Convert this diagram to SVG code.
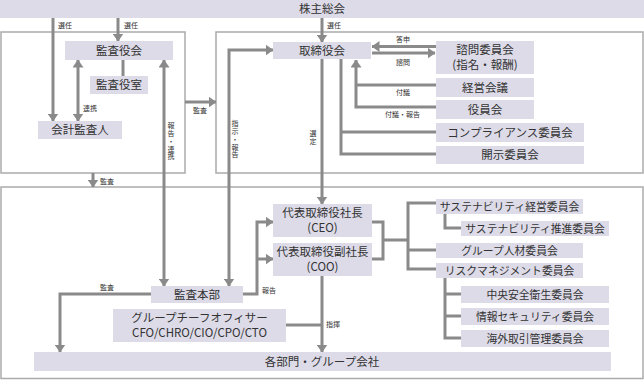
<svg xmlns="http://www.w3.org/2000/svg" width="644" height="380" viewBox="0 0 644 380">
<defs>
<style>
.frame{fill:#fff;stroke:#ababab;stroke-width:1.5}
.box{fill:#dddbe8}
.t{font-family:"Noto Sans CJK JP","Noto Sans",sans-serif;font-size:11.5px;fill:#333;text-anchor:middle}
.ts{font-family:"Noto Sans CJK JP","Noto Sans",sans-serif;font-size:10.8px;fill:#333;text-anchor:middle}
.lb{font-family:"Noto Sans CJK JP","Noto Sans",sans-serif;font-size:7px;fill:#333}
.vl{font-family:"Noto Sans CJK JP","Noto Sans",sans-serif;font-size:7px;fill:#333;letter-spacing:0.8px}
.c{fill:none;stroke:#8a8a8a;stroke-width:3}
.a{marker-end:url(#ah)}
.b{marker-start:url(#ah);marker-end:url(#ah)}
</style>
<marker id="ah" markerUnits="userSpaceOnUse" viewBox="0 0 8 11" markerWidth="8" markerHeight="11" refX="7.5" refY="5.5" orient="auto-start-reverse">
<path d="M0,0 L8,5.5 L0,11 z" fill="#8a8a8a"/>
</marker>
</defs>
<rect class="frame" x="1" y="32" width="184" height="141"/>
<rect class="frame" x="216" y="32" width="427" height="141"/>
<rect class="frame" x="1" y="187" width="642" height="191.5"/>

<g id="connectors">
<path class="c a" d="M53,18 V121"/>
<path class="c a" d="M118,18 V41"/>
<path class="c" d="M123,60 V76"/>
<path class="c b" d="M78,60 V121"/>
<path class="c b" d="M164,60 V286"/>
<path class="c a" d="M185,102 H216"/>
<path class="c a" d="M93,173 V187"/>
<path class="c a" d="M322,18 V42"/>
<path class="c b" d="M229,286 V50 H273"/>
<path class="c a" d="M322,59 V204"/>
<path class="c a" d="M436,46.5 H372"/>
<path class="c a" d="M372,53 H435"/>
<path class="c a" d="M436,107 H356 V60"/>
<path class="c" d="M436,85 H356"/>
<path class="c" d="M341,59 V154 H436 M341,132 H436"/>
<path class="c a" d="M243,294 H257 V222 H273"/>
<path class="c a" d="M257,259 H273"/>
<path class="c a" d="M151,294 H60 V352"/>
<path class="c a" d="M322,276 V352"/>
<path class="c" d="M286,325 H322"/>
<path class="c" d="M372,222 H383 V259 H372 M383,240 H408"/>
<path class="c" d="M436,203 H408 V269 H436 M408,250 H436"/>
<path class="c" d="M445,214 V228 H461"/>
<path class="c" d="M445,278 V338 H461 M445,294 H461 M445,316 H461"/>
<text class="lb" x="58" y="28">選任</text>
<text class="lb" x="124" y="28">選任</text>
<text class="lb" x="327" y="28">選任</text>
<text class="lb" x="83" y="111">連携</text>
<text class="vl" writing-mode="tb" x="171" y="122">報告・連携</text>
<text class="lb" x="193" y="113">監査</text>
<text class="lb" x="100" y="184">監査</text>
<text class="vl" writing-mode="tb" x="235" y="120">指示・報告</text>
<text class="vl" writing-mode="tb" x="313" y="130">選定</text>
<text class="lb" x="396" y="42">答申</text>
<text class="lb" x="396" y="65">諮問</text>
<text class="lb" x="396" y="95">付議</text>
<text class="lb" x="385" y="117">付議・報告</text>
<text class="lb" x="262" y="293">報告</text>
<text class="lb" x="100" y="290">監査</text>
<text class="lb" x="326" y="327">指揮</text>
</g>

<g id="n-shareholders"><rect class="box" x="0" y="0" width="644" height="18"/><text class="t" x="322" y="13">株主総会</text></g>
<g id="n-kansayakukai"><rect class="box" x="65" y="41" width="108" height="19"/><text class="t" x="119" y="54.5">監査役会</text></g>
<g id="n-kansayakushitsu"><rect class="box" x="90" y="76" width="58" height="18"/><text class="t" x="119" y="89">監査役室</text></g>
<g id="n-kaikei"><rect class="box" x="38" y="121" width="84" height="18"/><text class="t" x="80" y="134">会計監査人</text></g>
<g id="n-board"><rect class="box" x="273" y="42" width="98" height="17"/><text class="t" x="322" y="54.5">取締役会</text></g>
<g id="n-shimon"><rect class="box" x="436" y="41" width="98" height="33"/><text class="t" x="485" y="54">諮問委員会</text><text class="t" x="485" y="69">(指名・報酬)</text></g>
<g id="n-keiei"><rect class="box" x="436" y="78" width="98" height="19"/><text class="t" x="485" y="91.5">経営会議</text></g>
<g id="n-yakuin"><rect class="box" x="436" y="100" width="98" height="19"/><text class="t" x="485" y="113.5">役員会</text></g>
<g id="n-compliance"><rect class="box" x="436" y="123" width="148" height="19"/><text class="t" x="510" y="136.5">コンプライアンス委員会</text></g>
<g id="n-kaiji"><rect class="box" x="436" y="146" width="148" height="18"/><text class="t" x="510" y="159">開示委員会</text></g>
<g id="n-ceo"><rect class="box" x="273" y="204" width="99" height="33"/><text class="t" x="322.5" y="217">代表取締役社長</text><text class="t" x="322.5" y="232">(CEO)</text></g>
<g id="n-coo"><rect class="box" x="273" y="243" width="99" height="33"/><text class="t" x="322.5" y="256">代表取締役副社長</text><text class="t" x="322.5" y="271">(COO)</text></g>
<g id="n-kansahonbu"><rect class="box" x="151" y="286" width="92" height="17"/><text class="t" x="197" y="298.5">監査本部</text></g>
<g id="n-chief"><rect class="box" x="113" y="309" width="173" height="33"/><text class="t" x="199.5" y="322">グループチーフオフィサー</text><text class="t" x="199.5" y="337">CFO/CHRO/CIO/CPO/CTO</text></g>
<g id="n-depts"><rect class="box" x="34" y="352" width="577" height="19"/><text class="t" x="322" y="365.5">各部門・グループ会社</text></g>
<g id="n-sus-keiei"><rect class="box" x="436" y="199" width="147" height="15"/><text class="ts" x="509.5" y="210.5">サステナビリティ経営委員会</text></g>
<g id="n-sus-suishin"><rect class="box" x="461" y="221" width="148" height="15"/><text class="ts" x="535" y="232.5">サステナビリティ推進委員会</text></g>
<g id="n-jinzai"><rect class="box" x="436" y="243" width="147" height="15"/><text class="ts" x="509.5" y="254.5">グループ人材委員会</text></g>
<g id="n-risk"><rect class="box" x="436" y="263" width="147" height="15"/><text class="ts" x="509.5" y="274.5">リスクマネジメント委員会</text></g>
<g id="n-anzen"><rect class="box" x="461" y="286" width="148" height="17"/><text class="ts" x="535" y="298.5">中央安全衛生委員会</text></g>
<g id="n-security"><rect class="box" x="461" y="308" width="148" height="17"/><text class="ts" x="535" y="320.5">情報セキュリティ委員会</text></g>
<g id="n-kaigai"><rect class="box" x="461" y="330" width="148" height="17"/><text class="ts" x="535" y="342.5">海外取引管理委員会</text></g>
</svg>
